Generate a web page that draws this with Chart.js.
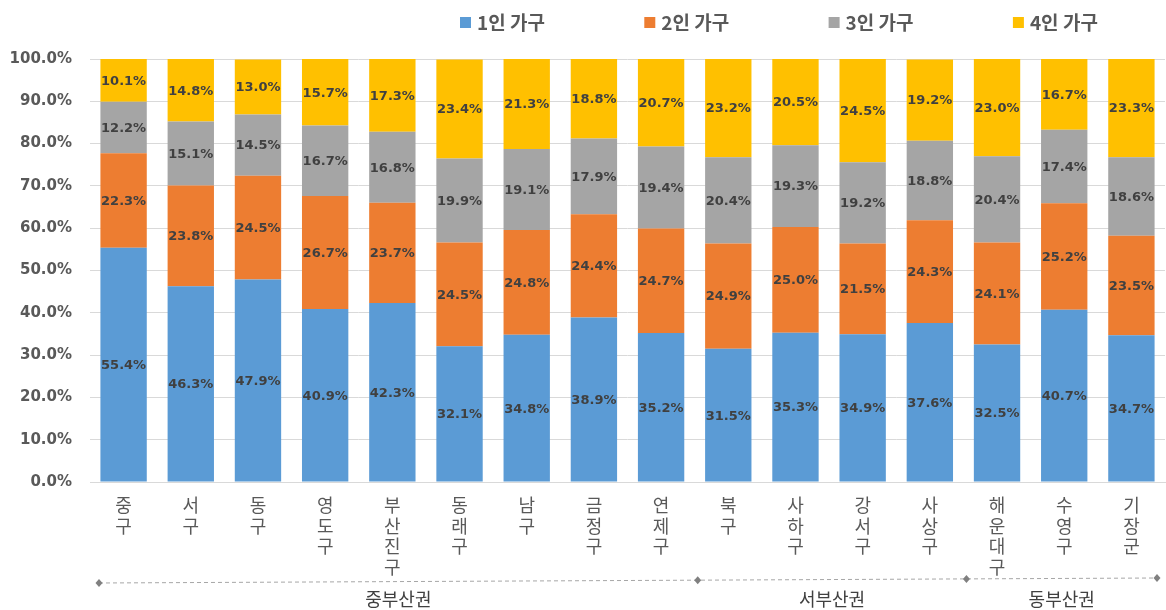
<!DOCTYPE html>
<html>
<head>
<meta charset="utf-8">
<script src="https://cdn.jsdelivr.net/npm/chart.js@4"></script>
<style>
html,body{margin:0;padding:0;background:#fff;}
#wrap{width:1166px;height:610px;position:relative;}
</style>
</head>
<body>
<div id="wrap"><canvas id="c" width="1166" height="610"></canvas></div>
<script>
const categories = ['중구','서구','동구','영도구','부산진구','동래구','남구','금정구','연제구','북구','사하구','강서구','사상구','해운대구','수영구','기장군'];
const seriesNames = ['1인 가구','2인 가구','3인 가구','4인 가구'];
const onePerson   = [55.4,46.3,47.9,40.9,42.3,32.1,34.8,38.9,35.2,31.5,35.3,34.9,37.6,32.5,40.7,34.7];
const twoPerson   = [22.3,23.8,24.5,26.7,23.7,24.5,24.8,24.4,24.7,24.9,25.0,21.5,24.3,24.1,25.2,23.5];
const threePerson = [12.2,15.1,14.5,16.7,16.8,19.9,19.1,17.9,19.4,20.4,19.3,19.2,18.8,20.4,17.4,18.6];
const fourPerson  = [10.1,14.8,13.0,15.7,17.3,23.4,21.3,18.8,20.7,23.2,20.5,24.5,19.2,23.0,16.7,23.3];
const regionGroups = [
  {name:'중부산권', from:0, to:8},
  {name:'서부산권', from:9, to:12},
  {name:'동부산권', from:13, to:15}
];
const colors = ['#5B9BD5','#ED7D31','#A5A5A5','#FFC000'];

const NUM_FONT = "'DejaVu Sans','Noto Sans CJK KR',sans-serif";
const KR_FONT = "'Noto Sans CJK KR','DejaVu Sans',sans-serif";

const valueLabels = {
  id:'valueLabels',
  afterDatasetsDraw(chart){
    const ctx = chart.ctx;
    ctx.save();
    ctx.font = "bold 13px " + NUM_FONT;
    ctx.fillStyle = '#404040';
    ctx.textAlign = 'center';
    ctx.textBaseline = 'middle';
    chart.data.datasets.forEach((ds, di) => {
      const meta = chart.getDatasetMeta(di);
      meta.data.forEach((el, i) => {
        const v = ds.data[i];
        ctx.fillText(v.toFixed(1) + '%', el.x, (el.y + el.base) / 2 + 1);
      });
    });
    ctx.restore();
  }
};

const customLegend = {
  id:'customLegend',
  afterDraw(chart){
    const ctx = chart.ctx;
    ctx.save();
    ctx.font = "bold 19px " + KR_FONT;
    ctx.textBaseline = 'middle';
    ctx.textAlign = 'left';
    const startX = 460, step = 184.3, cy = 22;
    chart.data.datasets.forEach((ds, i) => {
      const x = startX + i * step;
      ctx.fillStyle = ds.backgroundColor;
      ctx.fillRect(x, cy - 5, 11, 11);
      ctx.fillStyle = '#595959';
      ctx.fillText(ds.label, x + 17, cy + 1);
    });
    ctx.restore();
  }
};

const groupAxis = {
  id:'groupAxis',
  afterDraw(chart){
    const ctx = chart.ctx;
    const xs = chart.scales.x;
    const half = (xs.getPixelForValue(1) - xs.getPixelForValue(0)) / 2;
    const bounds = [];
    bounds.push(xs.getPixelForValue(0) - half + 9);
    regionGroups.forEach((g, gi) => {
      if (gi < regionGroups.length - 1) bounds.push(xs.getPixelForValue(g.to) + half + 3);
    });
    bounds.push(xs.getPixelForValue(categories.length - 1) + half - 8);
    const y0 = 583, y1 = 578;
    const x0 = bounds[0], x1 = bounds[bounds.length - 1];
    const yAt = x => y0 + (y1 - y0) * (x - x0) / (x1 - x0);
    ctx.save();
    ctx.strokeStyle = '#A6A6A6';
    ctx.lineWidth = 1;
    ctx.setLineDash([4, 3]);
    ctx.beginPath();
    ctx.moveTo(x0, yAt(x0));
    ctx.lineTo(x1, yAt(x1));
    ctx.stroke();
    ctx.setLineDash([]);
    ctx.fillStyle = '#808080';
    bounds.forEach(b => {
      const y = yAt(b);
      ctx.beginPath();
      ctx.moveTo(b, y - 4);
      ctx.lineTo(b + 3.5, y);
      ctx.lineTo(b, y + 4);
      ctx.lineTo(b - 3.5, y);
      ctx.closePath();
      ctx.fill();
    });
    ctx.font = "18px " + KR_FONT;
    ctx.fillStyle = '#404040';
    ctx.textAlign = 'center';
    ctx.textBaseline = 'middle';
    regionGroups.forEach((g, gi) => {
      const cx = (bounds[gi] + bounds[gi + 1]) / 2;
      ctx.fillText(g.name, cx, 599);
    });
    ctx.restore();
  }
};

const dataSets = [onePerson, twoPerson, threePerson, fourPerson].map((d, i) => ({
  label: seriesNames[i],
  data: d,
  backgroundColor: colors[i],
  borderWidth: 0,
  barPercentage: 0.69,
  categoryPercentage: 1.0
}));

new Chart(document.getElementById('c'), {
  type: 'bar',
  data: {
    labels: categories.map(c => Array.from(c)),
    datasets: dataSets
  },
  options: {
    responsive: false,
    animation: false,
    layout: { padding: { top: 59, right: 1, left: 0, bottom: 0 } },
    plugins: {
      legend: { display: false },
      tooltip: { enabled: false },
      title: { display: false }
    },
    scales: {
      x: {
        stacked: true,
        afterFit(s){ s.height = 128; },
        grid: { display: false, drawTicks: false },
        border: { display: true, color: '#D9D9D9', width: 1 },
        ticks: {
          padding: 13,
          color: '#595959',
          font: { family: KR_FONT, size: 18, lineHeight: 1.14 },
          maxRotation: 0,
          autoSkip: false
        }
      },
      y: {
        stacked: true,
        min: 0,
        max: 100,
        afterFit(s){ s.width = 90; },
        grid: { color: '#D9D9D9', drawTicks: false },
        border: { display: false },
        ticks: {
          stepSize: 10,
          padding: 18,
          color: '#595959',
          font: { family: NUM_FONT, size: 15, weight: 'bold' },
          callback: v => v.toFixed(1) + '%'
        }
      }
    }
  },
  plugins: [valueLabels, customLegend, groupAxis]
});
</script>
</body>
</html>
